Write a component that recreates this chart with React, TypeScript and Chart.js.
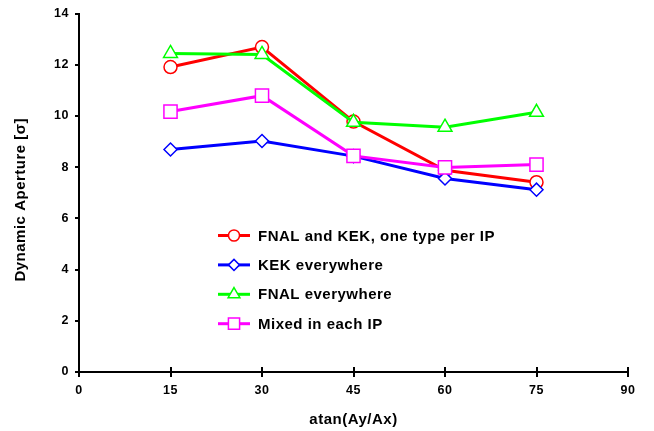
import React, { useEffect, useRef } from 'react';
import { Chart, registerables } from 'chart.js';
import { drawPoint } from 'chart.js/helpers';

Chart.register(...registerables);

const angles = [15, 30, 45, 60, 75];
const fnalKekPerIP = [11.91, 12.69, 9.78, 7.88, 7.41];
const kekEverywhere = [8.69, 9.02, 8.43, 7.56, 7.12];
const fnalEverywhere = [12.44, 12.4, 9.75, 9.56, 10.14];
const mixedInEachIP = [10.17, 10.79, 8.44, 7.99, 8.1];

const seriesLabels = [
  'FNAL and KEK, one type per IP',
  'KEK everywhere',
  'FNAL everywhere',
  'Mixed in each IP',
];
const xTicks = [0, 15, 30, 45, 60, 75, 90];
const yTicks = [0, 2, 4, 6, 8, 10, 12, 14];
const xTitle = 'atan(Ay/Ax)';
const yTitle = 'Dynamic Aperture [σ]';

const FONT = '"Liberation Sans", Arial, Helvetica, sans-serif';
const SPACING = '0.5px';

const spacingPlugin = {
  id: 'letterSpacing',
  beforeDraw(chart: any) {
    try { chart.ctx.letterSpacing = SPACING; } catch (e) { /* ignore */ }
  },
};

const legendPlugin = {
  id: 'customLegend',
  afterDraw(chart: any) {
    const ctx = chart.ctx;
    const area = chart.chartArea;
    const xs = chart.scales.x;
    ctx.save();
    // inward part of x tick marks
    ctx.strokeStyle = '#000';
    ctx.lineWidth = 2;
    xs.ticks.forEach((t: any) => {
      const px = Math.round(xs.getPixelForValue(t.value));
      ctx.beginPath();
      ctx.moveTo(px, area.bottom);
      ctx.lineTo(px, area.bottom - 5);
      ctx.stroke();
    });
    try { ctx.letterSpacing = SPACING; } catch (e) { /* ignore */ }
    // y axis title
    ctx.save();
    ctx.translate(21, (area.top + area.bottom) / 2 + 7);
    ctx.rotate(-Math.PI / 2);
    ctx.font = `bold 15px ${FONT}`;
    ctx.fillStyle = '#000';
    ctx.textAlign = 'center';
    ctx.textBaseline = 'middle';
    ctx.fillText(yTitle, 0, 0);
    ctx.restore();
    // legend
    const lx0 = area.left + 139;
    const lx1 = area.left + 171;
    const tx = area.left + 179;
    const ly0 = area.top + 222;
    const dy = 29.4;
    ctx.font = `bold 15px ${FONT}`;
    ctx.textBaseline = 'middle';
    ctx.textAlign = 'left';
    chart.data.datasets.forEach((ds: any, i: number) => {
      const y = ly0 + i * dy;
      ctx.strokeStyle = ds.borderColor;
      ctx.lineWidth = ds.borderWidth;
      ctx.beginPath();
      ctx.moveTo(lx0, y);
      ctx.lineTo(lx1, y);
      ctx.stroke();
      ctx.fillStyle = '#fff';
      ctx.strokeStyle = ds.pointBorderColor;
      ctx.lineWidth = ds.pointBorderWidth;
      drawPoint(ctx, { pointStyle: ds.pointStyle, radius: ds.pointRadius * 0.85, borderWidth: ds.pointBorderWidth, rotation: 0 }, (lx0 + lx1) / 2, y);
      ctx.fillStyle = '#000';
      ctx.fillText(ds.label, tx, y + 1);
    });
    ctx.restore();
  },
};

function makeDataset(label: string, values: number[], color: string, style: string, radius: number, order: number) {
  return {
    label,
    data: angles.map((a, i) => ({ x: a, y: values[i] })),
    borderColor: color,
    backgroundColor: '#fff',
    borderWidth: 3,
    pointStyle: style,
    pointRadius: radius,
    pointBorderColor: color,
    pointBackgroundColor: '#fff',
    pointBorderWidth: 1.5,
    tension: 0,
    order,
  };
}

export default function App() {
  const ref = useRef<HTMLCanvasElement | null>(null);
  useEffect(() => {
    if (!ref.current) return;
    const tickFont = { family: FONT, weight: 'bold' as const, size: 12.5 };
    const titleFont = { family: FONT, weight: 'bold' as const, size: 15 };
    const chart = new Chart(ref.current, {
      type: 'line',
      data: {
        datasets: [
          makeDataset(seriesLabels[0], fnalKekPerIP, '#ff0000', 'circle', 6.5, 4),
          makeDataset(seriesLabels[1], kekEverywhere, '#0000ff', 'rectRot', 6.5, 3),
          makeDataset(seriesLabels[2], fnalEverywhere, '#00ff00', 'triangle', 8, 2),
          makeDataset(seriesLabels[3], mixedInEachIP, '#ff00ff', 'rect', 9.3, 1),
        ] as any,
      },
      options: {
        responsive: false,
        animation: false,
        devicePixelRatio: 1,
        layout: { padding: { left: 0, top: 10, right: 26, bottom: 0 } },
        plugins: { legend: { display: false }, tooltip: { enabled: false } },
        scales: {
          x: {
            type: 'linear',
            min: 0,
            max: 90,
            afterBuildTicks: (s: any) => { s.ticks = xTicks.map((v) => ({ value: v })); },
            afterFit: (s: any) => { s.height = 59; },
            grid: { drawOnChartArea: false, drawTicks: true, tickLength: 5, color: '#000', lineWidth: 2 },
            border: { color: '#000', width: 2 },
            ticks: { font: tickFont, color: '#000', padding: 6, maxRotation: 0, autoSkip: false },
            title: { display: true, text: xTitle, font: titleFont, color: '#000', padding: { top: 0, bottom: 2 } },
          },
          y: {
            type: 'linear',
            min: 0,
            max: 14,
            afterBuildTicks: (s: any) => { s.ticks = yTicks.map((v) => ({ value: v })); },
            afterFit: (s: any) => { s.width = 79; },
            grid: { drawOnChartArea: false, drawTicks: true, tickLength: 4, color: '#000', lineWidth: 2 },
            border: { color: '#000', width: 2 },
            ticks: { font: tickFont, color: '#000', padding: 6, autoSkip: false },
            title: { display: false, text: yTitle },
          },
        },
      },
      plugins: [spacingPlugin, legendPlugin],
    } as any);
    return () => chart.destroy();
  }, []);
  return (
    <div style={{ position: 'fixed', left: 0, top: 0, width: 654, height: 431, background: '#fff' }}>
      <canvas ref={ref} width={654} height={431} style={{ display: 'block', width: 654, height: 431 }} />
    </div>
  );
}
